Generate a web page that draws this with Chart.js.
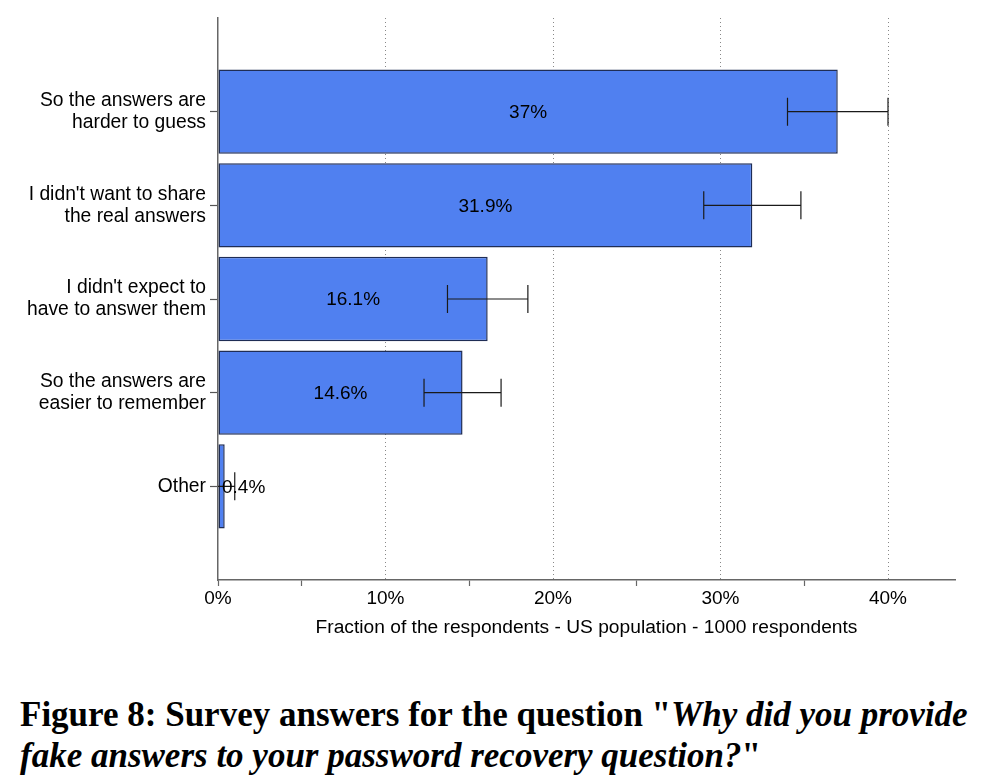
<!DOCTYPE html>
<html>
<head>
<meta charset="utf-8">
<script src="https://cdn.jsdelivr.net/npm/chart.js@4.4.1/dist/chart.umd.min.js"></script>
<style>
  html, body { margin: 0; padding: 0; background: #fff; }
  #wrap { position: relative; width: 1004px; height: 660px; }
  #caption {
    font-family: "Liberation Serif", "Times New Roman", serif;
    font-weight: bold;
    font-size: 35px;
    line-height: 41px;
    color: #000;
    margin: 34px 0 0 20px;
    white-space: nowrap;
  }
  #caption i { font-style: italic; }
</style>
</head>
<body>
<div id="wrap"><canvas id="chart" width="1004" height="660"></canvas></div>
<div id="caption">Figure 8: Survey answers for the question "<i>Why did you provide</i><br><i>fake answers to your password recovery question?</i>"</div>

<script>
// blank slots at top and bottom keep the empty space the original has
const categories = [
    "",
    ["So the answers are", "harder to guess"],
    ["I didn't want to share", "the real answers"],
    ["I didn't expect to", "have to answer them"],
    ["So the answers are", "easier to remember"],
    "Other",
    ""
];
const values = [null, 37, 31.9, 16.1, 14.6, 0.4, null];
const errLow = [null, 34, 29.0, 13.7, 12.3, -0.2, null];
const errHigh = [null, 40, 34.8, 18.5, 16.9, 1.0, null];
const xTicks = [0, 10, 20, 30, 40];

const sans = "'Liberation Sans', Arial, sans-serif";
const labelFont = "19px " + sans;

// error bars + value labels on top of the bars
const barExtras = {
    id: "barExtras",
    afterDatasetsDraw(chart) {
        const ctx = chart.ctx;
        const x = chart.scales.x;
        const area = chart.chartArea;
        const meta = chart.getDatasetMeta(0);

        ctx.save();
        ctx.beginPath();
        ctx.rect(area.left, area.top - 20, area.right - area.left + 20, area.bottom - area.top + 20);
        ctx.clip();
        ctx.strokeStyle = "#1a1a1a";
        ctx.lineWidth = 1.2;
        meta.data.forEach((bar, i) => {
            if (values[i] == null) return;
            const y = bar.y;
            const x1 = x.getPixelForValue(errLow[i]);
            const x2 = x.getPixelForValue(errHigh[i]);
            ctx.beginPath();
            ctx.moveTo(x1, y);
            ctx.lineTo(x2, y);
            ctx.moveTo(x1, y - 14);
            ctx.lineTo(x1, y + 14);
            ctx.moveTo(x2, y - 14);
            ctx.lineTo(x2, y + 14);
            ctx.stroke();
        });
        ctx.restore();

        ctx.save();
        ctx.font = labelFont;
        ctx.fillStyle = "#000";
        ctx.textAlign = "center";
        ctx.textBaseline = "middle";
        meta.data.forEach((bar, i) => {
            if (values[i] == null) return;
            const text = values[i] + "%";
            const w = ctx.measureText(text).width;
            let cx = (bar.base + bar.x) / 2;
            cx = Math.max(cx, area.left + w / 2 + 4);
            ctx.fillText(text, cx, bar.y + 1);
        });
        ctx.restore();
    }
};

new Chart(document.getElementById("chart"), {
    type: "bar",
    data: {
        labels: categories,
        datasets: [{
            data: values,
            backgroundColor: "#5080f0",
            borderColor: "#1f2d55",
            borderWidth: 1.5,
            borderSkipped: false,
            barPercentage: 0.9,
            categoryPercentage: 1.0
        }]
    },
    options: {
        indexAxis: "y",
        responsive: false,
        animation: false,
        layout: { padding: { top: 18, right: 49, bottom: 18, left: 0 } },
        plugins: {
            legend: { display: false },
            tooltip: { enabled: false }
        },
        scales: {
            x: {
                min: 0,
                max: 44,
                afterFit(scale) { scale.height = 62; },
                afterBuildTicks(scale) {
                    const t = [];
                    for (let v = 0; v <= 40; v += 5) t.push({ value: v });
                    scale.ticks = t;
                },
                ticks: {
                    color: "#000",
                    font: { family: sans, size: 19 },
                    padding: 1,
                    maxRotation: 0,
                    autoSkip: false,
                    callback: v => xTicks.includes(v) ? v + "%" : ""
                },
                grid: {
                    color: c => (c.tick && c.tick.value > 0 && c.tick.value % 10 === 0) ? "#888" : "transparent",
                    lineWidth: 1,
                    tickLength: 6,
                    tickColor: c => (c.tick && c.tick.value % 10 !== 0) || (c.tick && c.tick.value === 0) ? "#666" : "transparent",
                    tickWidth: 1.2
                },
                border: { color: "#666", width: 1.5, dash: [1, 3] },
                title: {
                    display: true,
                    text: "Fraction of the respondents - US population - 1000 respondents",
                    color: "#000",
                    font: { family: sans, size: 19.2 },
                    padding: { top: 4, bottom: 3 }
                }
            },
            y: {
                offset: false,
                afterFit(scale) { scale.width = 218; },
                ticks: {
                    color: "#000",
                    font: { family: sans, size: 19.3, lineHeight: 1.15 },
                    padding: 4,
                    autoSkip: false
                },
                grid: {
                    offset: false,
                    drawOnChartArea: false,
                    tickLength: 8,
                    tickColor: c => categories[c.index] === "" ? "transparent" : "#555",
                    tickWidth: 1.2
                },
                border: { color: "#666", width: 1.5 }
            }
        }
    },
    plugins: [barExtras]
});
</script>
</body>
</html>
